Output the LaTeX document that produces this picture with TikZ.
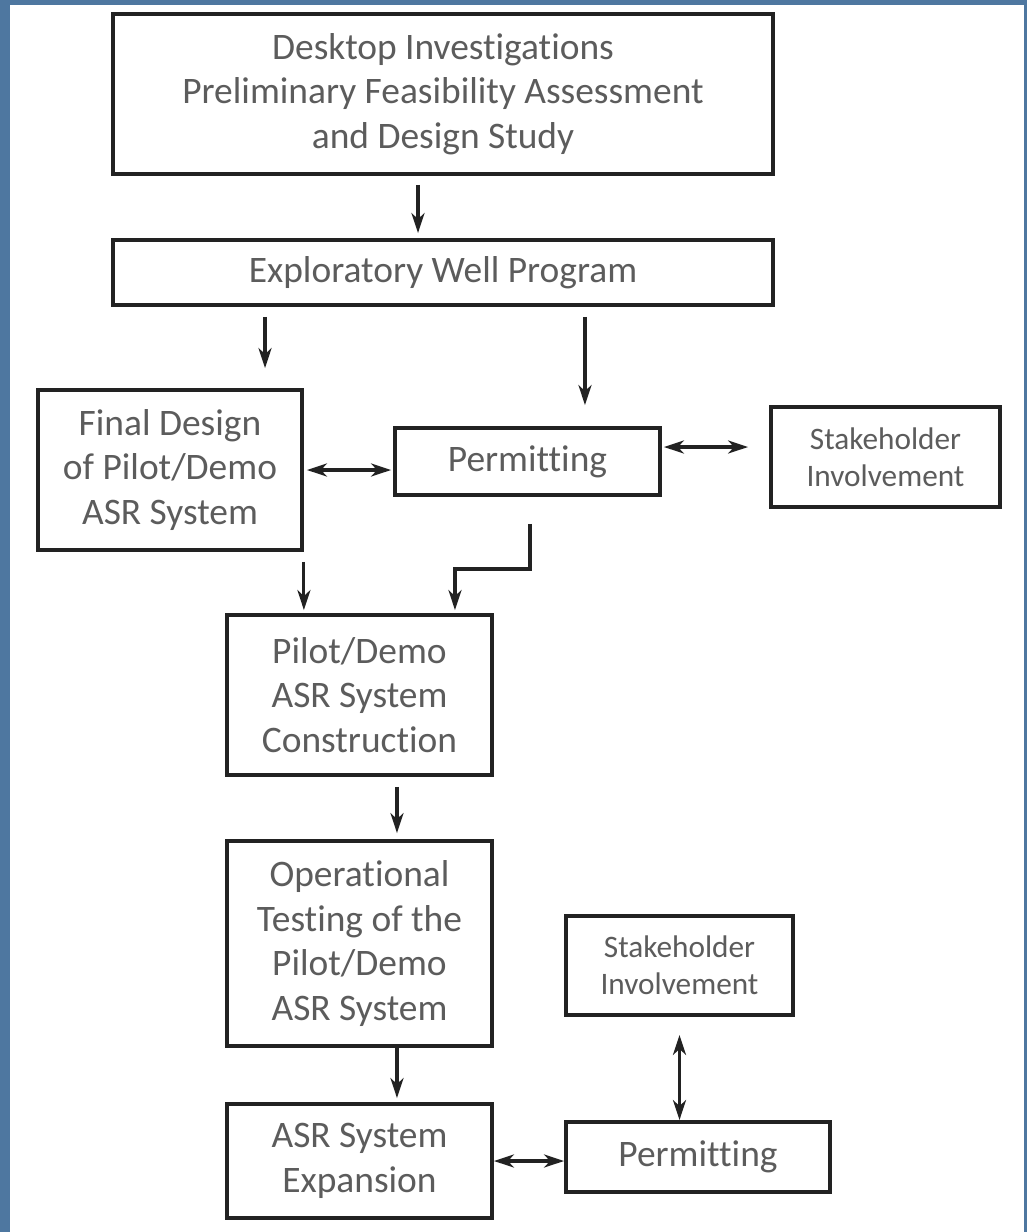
\documentclass[tikz,border=0pt]{standalone}
\usepackage{fontspec}
\setmainfont[Ligatures=NoCommon]{Carlito}
\usepackage{xcolor}
\usepackage{tikz}
\usetikzlibrary{arrows.meta}
\definecolor{slideblue}{RGB}{78,119,160}
\definecolor{boxtext}{RGB}{92,92,92}
\definecolor{boxline}{RGB}{34,34,34}

\begin{document}
\begin{tikzpicture}[x=0.02cm,y=-0.02cm,
    stagebox/.style={draw=boxline, line width=2.2pt, fill=white, align=center, text=boxtext,
        inner sep=0pt, font=\fontsize{21.3}{25.3}\selectfont},
    smallbox/.style={stagebox, font=\fontsize{17.8}{21}\selectfont},
    flow/.style={draw=boxline, line width=1.8pt, -{Stealth[length=0.4cm, width=0.26cm, inset=0.12cm]}},
    flowboth/.style={flow, {Stealth[length=0.4cm, width=0.26cm, inset=0.12cm]}-{Stealth[length=0.4cm, width=0.26cm, inset=0.12cm]}}]
                % slide background
                \useasboundingbox (0,0) rectangle (1027,1232);
                \fill[slideblue] (0,0) rectangle (1027,1232);
                \fill[white] (10,5) rectangle (1024,1232);
                % boxes
                \node[stagebox, minimum width=13.2cm, minimum height=3.2cm] (desk) at (443,94)
                    {Desktop Investigations\\Preliminary Feasibility Assessment\\and Design Study};
                \node[stagebox, minimum width=13.2cm, minimum height=1.3cm] (explore) at (443,272.5)
                    {Exploratory Well Program};
                \node[stagebox, minimum width=5.28cm, minimum height=3.2cm] (design) at (170,470)
                    {Final Design\\of Pilot/Demo\\ASR System};
                \node[stagebox, minimum width=5.3cm, minimum height=1.34cm] (permit) at (527.5,461.5)
                    {Permitting};
                \node[smallbox, minimum width=4.58cm, minimum height=2cm] (stake) at (885.5,457)
                    {Stakeholder\\Involvement};
                \node[stagebox, minimum width=5.3cm, minimum height=3.2cm] (build) at (359.5,695)
                    {Pilot/Demo\\ASR System\\Construction};
                \node[stagebox, minimum width=5.3cm, minimum height=4.1cm] (test) at (359.5,943.5)
                    {Operational\\Testing of the\\Pilot/Demo\\ASR System};
                \node[smallbox, minimum width=4.54cm, minimum height=1.98cm] (stakeB) at (679.5,965.5)
                    {Stakeholder\\Involvement};
                \node[stagebox, minimum width=5.3cm, minimum height=2.28cm] (expand) at (359.5,1161)
                    {ASR System\\Expansion};
                \node[stagebox, minimum width=5.28cm, minimum height=1.4cm] (permitB) at (698,1157)
                    {Permitting};
                % connectors
                \coordinate (d1) at ([xshift=-0.5cm]desk.south);
                \coordinate (e1) at ([xshift=-3.56cm]explore.south);
                \coordinate (e2) at ([xshift=2.84cm]explore.south);
                \coordinate (p1) at ([yshift=0.29cm]permit.east);
                \coordinate (b1) at ([xshift=0.75cm]build.south);
                \coordinate (t1) at ([xshift=0.75cm]test.south);
                \draw[flow, shorten <=0.18cm, shorten >=0.1cm] (d1) -- (d1 |- explore.north);
                \draw[flow, shorten <=0.2cm, shorten >=0.4cm] (e1) -- (e1 |- design.north);
                \draw[flow, shorten <=0.2cm, shorten >=0.42cm] (e2) -- (e2 |- permit.north);
                \draw[flowboth, shorten <=0.06cm, shorten >=0.04cm] (design.east) -- (design.east -| permit.west);
                \draw[flowboth, shorten <=0.04cm, shorten >=0.42cm] (p1) -- (p1 -| stake.west);
                \draw[flow, shorten <=0.2cm, shorten >=0.06cm] (design.south east) -- (design.south east |- build.north);
                \draw[flow, shorten <=0.54cm, shorten >=0.06cm] ([xshift=0.05cm]permit.south) -- ++(0,72)
                    -| ([xshift=1.91cm]build.north);
                \draw[flow, shorten <=0.2cm, shorten >=0.12cm] (b1) -- (b1 |- test.north);
                \draw[flow, shorten >=0.08cm] (t1) -- (t1 |- expand.north);
                \draw[flowboth] (expand.east) -- (expand.east -| permitB.west);
                \draw[flowboth, shorten <=0.36cm] (stakeB.south) -- (stakeB.south |- permitB.north);
            \end{tikzpicture}
\end{document}
